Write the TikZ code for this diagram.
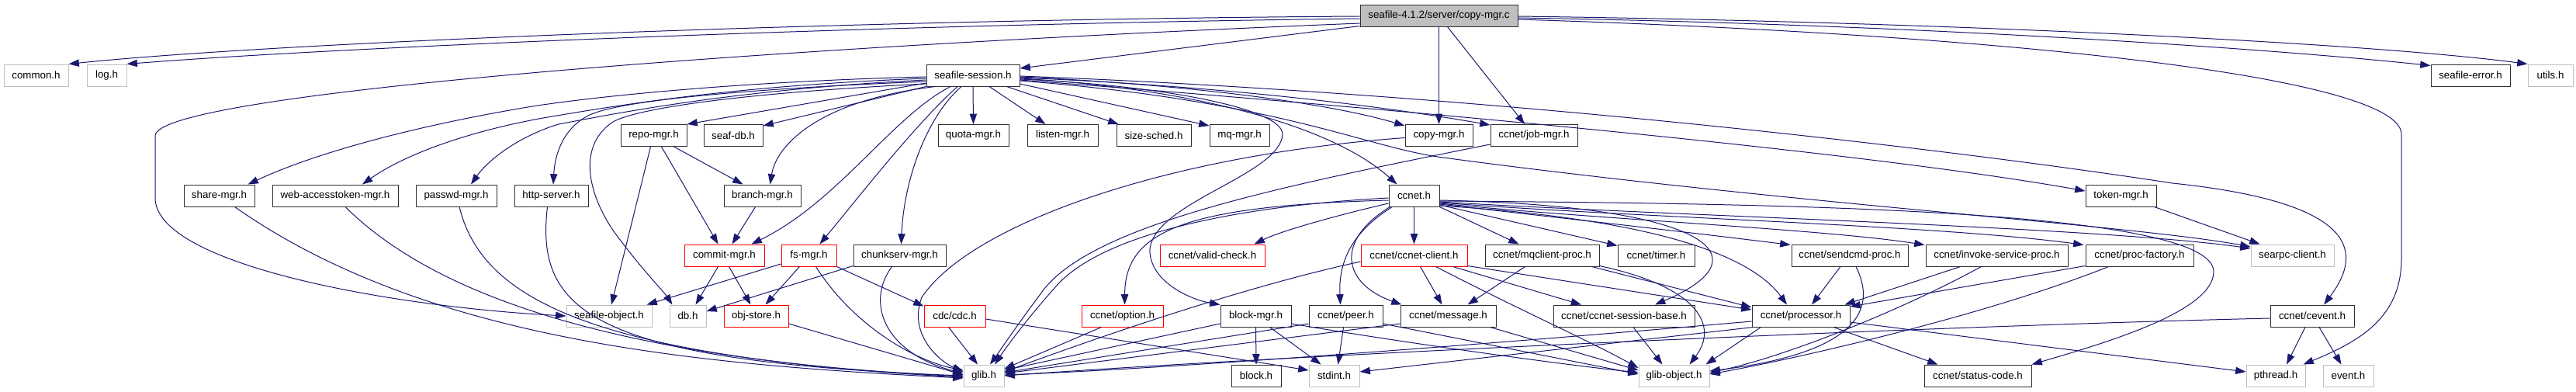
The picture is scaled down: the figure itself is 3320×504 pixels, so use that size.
\documentclass[tikz,border=0pt]{standalone}
\usepackage{fontspec}
\setmainfont{Liberation Sans}
\usetikzlibrary{arrows.meta,calc}
\definecolor{edgec}{HTML}{191970}
\definecolor{grayb}{HTML}{BFBFBF}
\definecolor{boxb}{HTML}{303030}
\begin{document}
\begin{tikzpicture}[x=0.75pt,y=-0.75pt,
  hb/.style={draw=boxb,line width=0.75pt,fill=white,rectangle,inner sep=0pt,minimum height=21pt,font=\fontsize{10}{12}\selectfont,anchor=center},
  hg/.style={hb,draw=grayb},
  hr/.style={hb,draw=red},
  hm/.style={hb,fill=grayb},
  wd/.style={minimum width=#1*0.75pt},
  e/.style={draw=edgec,line width=0.75pt,-{Triangle[length=10pt,width=7pt]}}]
\fill[white] (0,0) rectangle (3320,504);
\useasboundingbox (0,0) rectangle (3320,504);
% row 0
\node[hm,wd=203] (cm) at (1854.5,20) {seafile-4.1.2/server/copy-mgr.c};
% row 1
\node[hg,wd=83] (common) at (46.5,97) {common.h};
\node[hg,wd=51] (logh) at (137.5,97) {log.h};
\node[hb,wd=120] (ss) at (1254,97) {seafile-session.h};
\node[hb,wd=102] (serr) at (3184,97) {seafile-error.h};
\node[hg,wd=58] (utils) at (3287,97) {utils.h};
% row 2
\node[hb,wd=85] (repo) at (842.5,174.5) {repo-mgr.h};
\node[hb,wd=76] (seafdb) at (945,174.5) {seaf-db.h};
\node[hb,wd=91] (quota) at (1254.5,174.5) {quota-mgr.h};
\node[hb,wd=91] (listen) at (1369.5,174.5) {listen-mgr.h};
\node[hb,wd=96] (sizes) at (1487,174.5) {size-sched.h};
\node[hb,wd=77] (mq) at (1597.5,174.5) {mq-mgr.h};
\node[hb,wd=87] (copyh) at (1854.5,174.5) {copy-mgr.h};
\node[hb,wd=112] (job) at (1977,174.5) {ccnet/job-mgr.h};
% row 3
\node[hb,wd=91] (share) at (282.5,252) {share-mgr.h};
\node[hb,wd=162] (web) at (432,252) {web-accesstoken-mgr.h};
\node[hb,wd=104] (passwd) at (588,252) {passwd-mgr.h};
\node[hb,wd=95] (http) at (710.5,252) {http-server.h};
\node[hb,wd=99] (branch) at (982.5,252) {branch-mgr.h};
\node[hb,wd=65] (ccnet) at (1822.5,252) {ccnet.h};
\node[hb,wd=91] (token) at (2733.5,252) {token-mgr.h};
% row 4
\node[hr,wd=103] (commit) at (933.5,329) {commit-mgr.h};
\node[hr,wd=71] (fs) at (1042.5,329) {fs-mgr.h};
\node[hb,wd=119] (chunk) at (1159.5,329) {chunkserv-mgr.h};
\node[hr,wd=135] (valid) at (1562.5,329) {ccnet/valid-check.h};
\node[hr,wd=137] (client) at (1822.5,329) {ccnet/ccnet-client.h};
\node[hb,wd=147] (mqc) at (1987.5,329) {ccnet/mqclient-proc.h};
\node[hb,wd=99] (timer) at (2134.5,329) {ccnet/timer.h};
\node[hb,wd=150] (sendcmd) at (2384,329) {ccnet/sendcmd-proc.h};
\node[hb,wd=183] (invoke) at (2573.5,329) {ccnet/invoke-service-proc.h};
\node[hb,wd=139] (procf) at (2757.5,329) {ccnet/proc-factory.h};
\node[hg,wd=107] (searpc) at (2954.5,329) {searpc-client.h};
% row 5
\node[hg,wd=110] (seafobj) at (785,407) {seafile-object.h};
\node[hg,wd=47] (db) at (886.5,407) {db.h};
\node[hr,wd=83] (objstore) at (974.5,407) {obj-store.h};
\node[hr,wd=79] (cdc) at (1230.5,407) {cdc/cdc.h};
\node[hr,wd=105] (option) at (1446.5,407) {ccnet/option.h};
\node[hb,wd=91] (blockmgr) at (1618.5,407) {block-mgr.h};
\node[hb,wd=95] (peer) at (1734.5,407) {ccnet/peer.h};
\node[hb,wd=123] (message) at (1866.5,407) {ccnet/message.h};
\node[hb,wd=182] (csb) at (2093,407) {ccnet/ccnet-session-base.h};
\node[hb,wd=126] (processor) at (2321,407) {ccnet/processor.h};
\node[hb,wd=108] (cevent) at (2980,407) {ccnet/cevent.h};
% row 6
\node[hg,wd=52] (glib) at (1268,484) {glib.h};
\node[hb,wd=64] (block) at (1619,484) {block.h};
\node[hg,wd=65] (stdint) at (1719.5,484) {stdint.h};
\node[hg,wd=91] (gobj) at (2157.5,484) {glib-object.h};
\node[hb,wd=138] (status) at (2549,484) {ccnet/status-code.h};
\node[hg,wd=76] (pthread) at (2933,484) {pthread.h};
\node[hg,wd=65] (event) at (3026.5,484) {event.h};

% ---- edges from copy-mgr.c
\draw[e] ($(cm.west)+(0,1)$) .. controls (1100,25) and (350,55) .. (common.north east);
\draw[e] ($(cm.west)+(0,4)$) .. controls (1100,32) and (420,62) .. (logh.north east);
\draw[e] ($(cm.west)+(0,10)$) .. controls (1000,60) and (200,120) .. (200,175) -- (200,255) .. controls (200,340) and (500,395) .. (seafobj.west);
\draw[e] ($(cm.south west)+(0,-1)$) -- ($(ss.east)+(0,-9)$);
\draw[e] (cm.south) -- (copyh.north);
\draw[e] ($(cm.south)+(11,0)$) -- ($(job.north)+(-12,0)$);
\draw[e] ($(cm.east)+(0,1)$) .. controls (2500,28) and (3050,55) .. (utils.north west);
\draw[e] ($(cm.east)+(0,3)$) .. controls (2500,32) and (2950,65) .. ($(serr.north west)+(0,2)$);
\draw[e] ($(cm.east)+(0,5)$) .. controls (2600,45) and (3095,100) .. (3095,173) -- (3095,333) .. controls (3095,410) and (3040,440) .. ($(pthread.north east)+(-3,0)$);

% ---- edges from seafile-session.h
\draw[e] (ss.south) -- (quota.north);
\draw[e] ($(ss.south)+(21,0)$) -- ($(listen.north)+(-22,0)$);
\draw[e] ($(ss.south east)+(-17,0)$) -- ($(sizes.north west)+(3,0)$);
\draw[e] ($(ss.east)+(0,11)$) -- ($(mq.north west)+(0,2)$);
\draw[e] ($(ss.west)+(0,10)$) -- (repo.north east);
\draw[e] (ss.south west) -- ($(seafdb.north east)+(0,2)$);
\draw[e] ($(ss.south west)+(12,0)$) .. controls (1050,130) and (1000,190) .. ($(branch.north)+(10,0)$);
\draw[e] ($(ss.south)+(-29,0)$) .. controls (1150,150) and (1080,260) .. ($(commit.north)+(35,0)$);
\draw[e] ($(ss.south)+(-20,0)$) .. controls (1180,160) and (1110,250) .. ($(fs.north)+(14,0)$);
\draw[e] ($(ss.south)+(-15,0)$) .. controls (1195,150) and (1165,230) .. ($(chunk.north)+(2,0)$);
\draw[e] ($(ss.west)+(0,2)$) .. controls (950,105) and (760,125) .. (680,138) .. controls (520,165) and (400,200) .. ($(share.north)+(37,0)$);
\draw[e] ($(ss.west)+(0,4)$) .. controls (950,110) and (800,135) .. (700,152) .. controls (600,170) and (520,200) .. ($(web.north)+(35,0)$);
\draw[e] ($(ss.west)+(0,6)$) .. controls (950,115) and (800,145) .. (720,160) .. controls (670,175) and (630,205) .. ($(passwd.north)+(19,0)$);
\draw[e] ($(ss.west)+(0,8)$) .. controls (950,115) and (800,130) .. (760,148) .. controls (725,165) and (715,200) .. ($(http.north)+(2.5,0)$);
\draw[e] ($(ss.west)+(0,11)$) .. controls (950,120) and (820,140) .. (790,157) .. controls (740,190) and (760,260) .. (800,310) .. controls (830,350) and (855,375) .. ($(db.north west)+(4,0)$);
\draw[e] ($(ss.east)+(0,2)$) .. controls (1550,110) and (1720,135) .. ($(copyh.north west)+(0,2)$);
\draw[e] ($(ss.east)+(0,3)$) .. controls (1600,112) and (1800,140) .. ($(job.north west)+(0,1)$);
\draw[e] ($(ss.east)+(0,4)$) .. controls (1550,115) and (1720,165) .. ($(ccnet.north)+(-22,0)$);
\draw[e] ($(ss.east)+(0,5)$) .. controls (1500,110) and (1653,140) .. (1653,173) .. controls (1650,225) and (1490,260) .. (1482,320) .. controls (1480,360) and (1530,385) .. (blockmgr.north west);
\draw[e] ($(ss.east)+(0,6)$) .. controls (1800,140) and (2400,195) .. ($(token.west)+(0,-6)$);
\draw[e] ($(ss.east)+(0,7)$) .. controls (1650,130) and (1760,190) .. (1860,203) .. controls (2300,262) and (2750,290) .. ($(searpc.west)+(0,-11)$);
\draw[e] ($(ss.east)+(0,1)$) .. controls (1900,120) and (2500,190) .. (2800,236) .. controls (3030,260) and (3050,320) .. ($(cevent.north)+(15,0)$);

% ---- copy-mgr.h, job-mgr.h
\draw[e] ($(copyh.west)+(0,3)$) .. controls (1500,200) and (1250,290) .. (1188,383) .. controls (1170,430) and (1210,465) .. ($(glib.west)+(0,-5)$);
\draw[e] ($(job.south west)+(0,-3)$) .. controls (1650,240) and (1400,290) .. (1340,380) .. controls (1310,420) and (1290,450) .. ($(glib.north)+(8,0)$);

% ---- ccnet.h
\draw[e] ($(ccnet.west)+(0,3)$) .. controls (1600,265) and (1420,300) .. (1360,370) .. controls (1320,415) and (1295,450) .. ($(glib.north)+(14,0)$);
\draw[e] ($(ccnet.west)+(0,6)$) .. controls (1520,265) and (1450,300) .. ($(option.north)+(3,0)$);
\draw[e] ($(ccnet.west)+(0,10)$) .. controls (1720,278) and (1650,298) .. ($(valid.north)+(54,0)$);
\draw[e] ($(ccnet.south west)+(5,0)$) .. controls (1740,300) and (1725,340) .. ($(peer.north)+(-7,0)$);
\draw[e] ($(ccnet.south west)+(2,0)$) .. controls (1720,310) and (1730,365) .. ($(message.north west)+(2,0)$);
\draw[e] (ccnet.south) -- (client.north);
\draw[e] (ccnet.south east) -- ($(mqc.north)+(-30,0)$);
\draw[e] ($(ccnet.east)+(0,12)$) -- ($(timer.north west)+(0,2)$);
\draw[e] ($(ccnet.east)+(0,11)$) .. controls (2050,285) and (2200,302) .. ($(sendcmd.north west)+(-1,1)$);
\draw[e] ($(ccnet.east)+(0,10)$) .. controls (2050,282) and (2350,295) .. ($(invoke.north west)+(-1,1)$);
\draw[e] ($(ccnet.east)+(0,9)$) .. controls (2100,280) and (2500,290) .. ($(procf.north west)+(-2,1)$);
\draw[e] ($(ccnet.east)+(0,8)$) .. controls (2150,278) and (2700,292) .. ($(searpc.west)+(0,-9)$);
\draw[e] ($(ccnet.east)+(0,7)$) .. controls (2300,262) and (2853,270) .. (2853,350) .. controls (2853,400) and (2720,440) .. (status.north east);
\draw[e] ($(ccnet.east)+(0,6)$) .. controls (2200,265) and (2280,330) .. ($(csb.north)+(40,0)$);
\draw[e] ($(ccnet.east)+(0,13)$) .. controls (2100,280) and (2250,320) .. ($(processor.north)+(-18,0)$);

% ---- ccnet-client.h
\draw[e] ($(client.south)+(8,0)$) -- ($(message.north)+(-8,0)$);
\draw[e] ($(client.south)+(50,0)$) -- ($(csb.north)+(-55,0)$);
\draw[e] ($(client.south)+(28,0)$) .. controls (1950,395) and (2050,440) .. ($(gobj.west)+(0,-10)$);
\draw[e] ($(client.south east)+(0,-1)$) -- ($(processor.west)+(0,-8)$);
\draw[e] ($(client.west)+(0,8)$) .. controls (1600,370) and (1400,440) .. ($(glib.east)+(0,-5)$);

% ---- mqclient-proc.h
\draw[e] ($(mqc.south)+(-22,0)$) -- ($(message.north)+(25,0)$);
\draw[e] ($(mqc.south east)+(-10,0)$) -- ($(processor.west)+(0,-11)$);
\draw[e] ($(mqc.south east)+(0,-1)$) .. controls (2190,370) and (2215,420) .. ($(gobj.north)+(20,0)$);

% ---- session-base, processor
\draw[e] ($(csb.south)+(12,0)$) -- ($(gobj.north)+(-15,0)$);
\draw[e] ($(processor.south)+(42,0)$) -- ($(status.north west)+(18,0)$);
\draw[e] ($(processor.east)+(0,8)$) -- ($(pthread.west)+(0,-5)$);
\draw[e] ($(processor.south west)+(12,0)$) -- ($(gobj.north east)+(-5,0)$);
\draw[e] ($(processor.west)+(0,7)$) .. controls (1900,445) and (1500,475) .. ($(glib.east)+(0,-1)$);
\draw[e] ($(processor.south west)+(2,0)$) -- ($(stdint.east)+(0,-5)$);

% ---- sendcmd, invoke, proc-factory, token
\draw[e] ($(sendcmd.south)+(-12,0)$) -- ($(processor.north)+(14,0)$);
\draw[e] ($(sendcmd.south)+(8,0)$) .. controls (2430,420) and (2350,460) .. ($(gobj.east)+(0,-6)$);
\draw[e] ($(invoke.south)+(-47,0)$) -- ($(processor.north east)+(-7,0)$);
\draw[e] ($(invoke.south)+(-20,0)$) .. controls (2450,400) and (2300,460) .. ($(gobj.east)+(0,-4)$);
\draw[e] ($(procf.south west)+(0,-1)$) -- ($(processor.east)+(0,-12)$);
\draw[e] ($(procf.south)+(-40,0)$) .. controls (2550,410) and (2300,465) .. ($(gobj.east)+(0,-2)$);
\draw[e] ($(token.south east)+(-3,0)$) -- ($(searpc.north west)+(12,0)$);

% ---- cevent
\draw[e] ($(cevent.south)+(-9,0)$) -- ($(pthread.north)+(14,0)$);
\draw[e] ($(cevent.south)+(9,0)$) -- ($(event.north)+(-9,0)$);
\draw[e] ($(cevent.west)+(0,3)$) .. controls (2500,420) and (1700,455) .. (glib.east);

% ---- left cluster
\draw[e] ($(repo.south)+(-4,0)$) -- ($(seafobj.north)+(3,0)$);
\draw[e] ($(repo.south)+(10,0)$) -- ($(commit.north)+(-8,0)$);
\draw[e] ($(repo.south)+(26,0)$) -- ($(branch.north)+(-25,0)$);
\draw[e] ($(branch.south)+(-9,0)$) -- ($(commit.north)+(10,0)$);
\draw[e] ($(commit.south)+(-8,0)$) -- ($(db.north)+(10,0)$);
\draw[e] ($(commit.south)+(6,0)$) -- ($(objstore.north)+(-7,0)$);
\draw[e] ($(fs.west)+(0,11)$) -- ($(seafobj.north east)+(-7,0)$);
\draw[e] ($(fs.south)+(-12,0)$) -- ($(objstore.north)+(12,0)$);
\draw[e] (fs.south east) -- ($(cdc.north west)+(0,2)$);
\draw[e] ($(fs.south)+(9,0)$) .. controls (1100,420) and (1180,465) .. ($(glib.west)+(0,-7)$);
\draw[e] ($(chunk.south west)+(0,-1)$) -- ($(db.east)+(0,-6)$);
\draw[e] ($(chunk.south)+(-10,0)$) .. controls (1115,390) and (1140,455) .. ($(glib.west)+(0,-3)$);
\draw[e] ($(objstore.east)+(0,10)$) -- ($(glib.west)+(0,-1)$);
\draw[e] ($(cdc.south)+(-8,0)$) -- ($(glib.north)+(-8,0)$);
\draw[e] ($(cdc.east)+(0,4)$) -- ($(stdint.west)+(0,-7)$);
\draw[e] ($(option.south)+(-27,0)$) -- ($(glib.east)+(0,-9)$);
\draw[e] ($(blockmgr.west)+(0,10)$) -- ($(glib.east)+(0,-7)$);
\draw[e] (blockmgr.south) -- (block.north);
\draw[e] ($(blockmgr.south)+(18,0)$) -- ($(stdint.north)+(-17,0)$);
\draw[e] ($(blockmgr.east)+(0,10)$) .. controls (1800,440) and (2000,468) .. ($(gobj.west)+(0,-4)$);
\draw[e] ($(peer.south)+(-3,0)$) -- ($(stdint.north)+(5,0)$);
\draw[e] ($(peer.east)+(0,10)$) -- ($(gobj.west)+(0,-2)$);
\draw[e] ($(peer.west)+(0,10)$) -- ($(glib.east)+(0,-4)$);
\draw[e] ($(message.south east)+(-8,0)$) -- ($(gobj.west)+(0,-7)$);
\draw[e] ($(message.west)+(0,10)$) -- ($(glib.east)+(0,-3)$);
\draw[e] ($(share.south)+(20,0)$) .. controls (550,440) and (900,470) .. ($(glib.west)+(0,3)$);
\draw[e] ($(web.south)+(13,0)$) .. controls (580,400) and (850,465) .. ($(glib.west)+(0,2)$);
\draw[e] ($(passwd.south)+(4,0)$) .. controls (620,380) and (750,460) .. ($(glib.west)+(0,1)$);
\draw[e] ($(http.south)+(-5,0)$) .. controls (690,400) and (760,465) .. (glib.west);
\end{tikzpicture}
\end{document}
